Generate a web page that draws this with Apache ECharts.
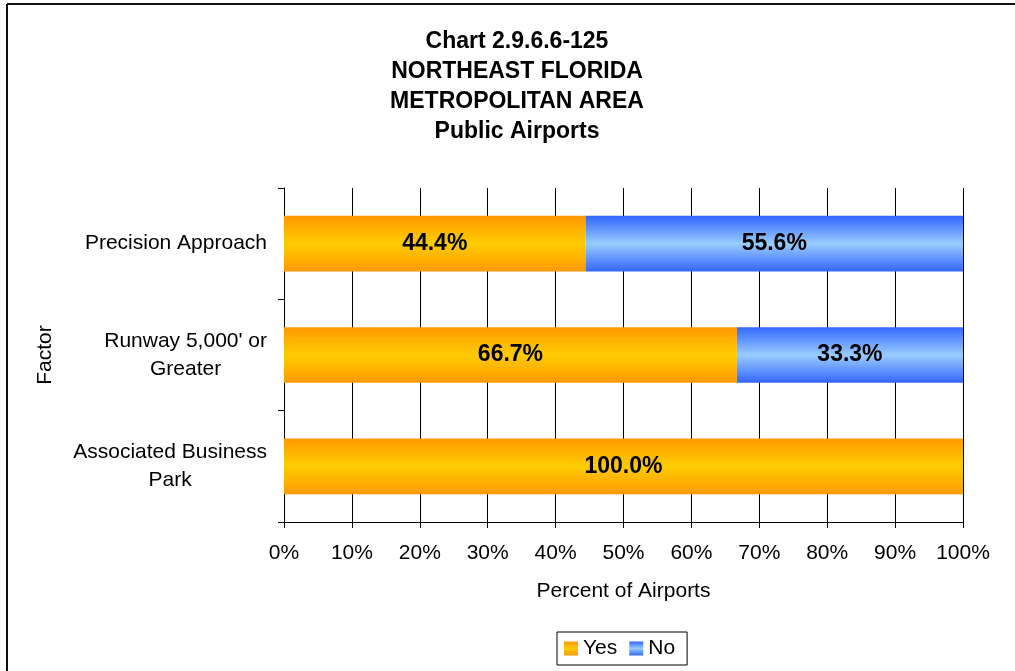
<!DOCTYPE html>
<html>
<head>
<meta charset="utf-8">
<script src="https://cdn.jsdelivr.net/npm/echarts@6/dist/echarts.min.js"></script>
<style>
  html, body { margin: 0; padding: 0; background: #fff; }
  #chart { width: 1015px; height: 671px; }
</style>
</head>
<body>
<div id="chart"></div>
<script>
// 数据
var factors = ['Associated Business\nPark', "Runway 5,000' or\nGreater", 'Precision Approach'];
var yesValues = [100.0, 66.7, 44.4];
var noValues = [0, 33.3, 55.6];
var xTicks = [0, 10, 20, 30, 40, 50, 60, 70, 80, 90, 100];

var font = 'Liberation Sans, Arial, sans-serif';

// 渐变填充 (中间亮, 上下暗)
function barFill(edge, mid) {
    return {
        type: 'linear', x: 0, y: 0, x2: 0, y2: 1,
        colorStops: [
            { offset: 0, color: edge },
            { offset: 0.5, color: mid },
            { offset: 1, color: edge }
        ]
    };
}

function pctLabel(p) {
    if (!p.value) return '';
    return p.value.toFixed(1) + '%';
}

var dom = document.getElementById('chart');
var myChart = echarts.init(dom);
var option = {
    animation: false,
    textStyle: { fontFamily: font },
    title: {
        text: 'Chart 2.9.6.6-125\nNORTHEAST FLORIDA\nMETROPOLITAN AREA\nPublic Airports',
        left: 517,
        top: 27,
        padding: 0,
        textAlign: 'center',
        textStyle: { fontSize: 23, fontWeight: 'bold', color: '#000', lineHeight: 30, fontFamily: font }
    },
    legend: {
        data: ['Yes', 'No'],
        left: 557,
        top: 632,
        padding: [6, 12, 6, 7],
        icon: 'rect',
        itemWidth: 14,
        itemHeight: 14,
        itemGap: 12,
        borderColor: '#000',
        borderWidth: 1,
        textStyle: { fontSize: 21, color: '#000', fontFamily: font }
    },
    grid: { left: 284, right: 52, top: 188, bottom: 149 },
    xAxis: {
        type: 'value',
        min: 0,
        max: 100,
        interval: 10,
        name: 'Percent of Airports',
        nameLocation: 'middle',
        nameGap: 59,
        nameTextStyle: { fontSize: 21, color: '#000', fontFamily: font },
        axisLine: { show: true, lineStyle: { color: '#000' } },
        axisTick: { show: true, length: 6, lineStyle: { color: '#000' } },
        axisLabel: {
            fontSize: 21, color: '#000', margin: 21,
            formatter: function (v) { return xTicks.indexOf(v) >= 0 ? v + '%' : ''; }
        },
        splitLine: { show: true, lineStyle: { color: '#000', width: 1 } }
    },
    yAxis: {
        type: 'category',
        data: factors,
        name: 'Factor',
        nameLocation: 'middle',
        nameRotate: 90,
        nameGap: 228,
        nameTextStyle: { fontSize: 21, color: '#000', fontFamily: font },
        axisLine: { show: true, lineStyle: { color: '#000' } },
        axisTick: { show: true, length: 6, lineStyle: { color: '#000' } },
        axisLabel: {
            fontSize: 21, color: '#000', margin: 17, lineHeight: 28,
            formatter: function (v) {
                return v.split('\n').map(function (s) { return '{c|' + s + '}'; }).join('\n');
            },
            rich: { c: { align: 'center', fontSize: 21, lineHeight: 28, color: '#000', fontFamily: font } }
        },
        splitLine: { show: false }
    },
    series: [
        {
            name: 'Yes',
            type: 'bar',
            stack: 'total',
            barCategoryGap: '50%',
            data: yesValues,
            itemStyle: { color: barFill('#FF9900', '#FFCC00') },
            label: {
                show: true, position: 'inside', formatter: pctLabel,
                fontSize: 23, fontWeight: 'bold', color: '#000', fontFamily: font
            }
        },
        {
            name: 'No',
            type: 'bar',
            stack: 'total',
            data: noValues,
            itemStyle: { color: barFill('#3366FF', '#99CCFF') },
            label: {
                show: true, position: 'inside', formatter: pctLabel,
                fontSize: 23, fontWeight: 'bold', color: '#000', fontFamily: font
            }
        }
    ],
    graphic: [
        { type: 'line', shape: { x1: 7, y1: 4, x2: 1015, y2: 4 }, style: { stroke: '#111', lineWidth: 2 } },
        { type: 'line', shape: { x1: 7, y1: 4, x2: 7, y2: 671 }, style: { stroke: '#111', lineWidth: 2 } }
    ]
};
myChart.setOption(option);
</script>
</body>
</html>
